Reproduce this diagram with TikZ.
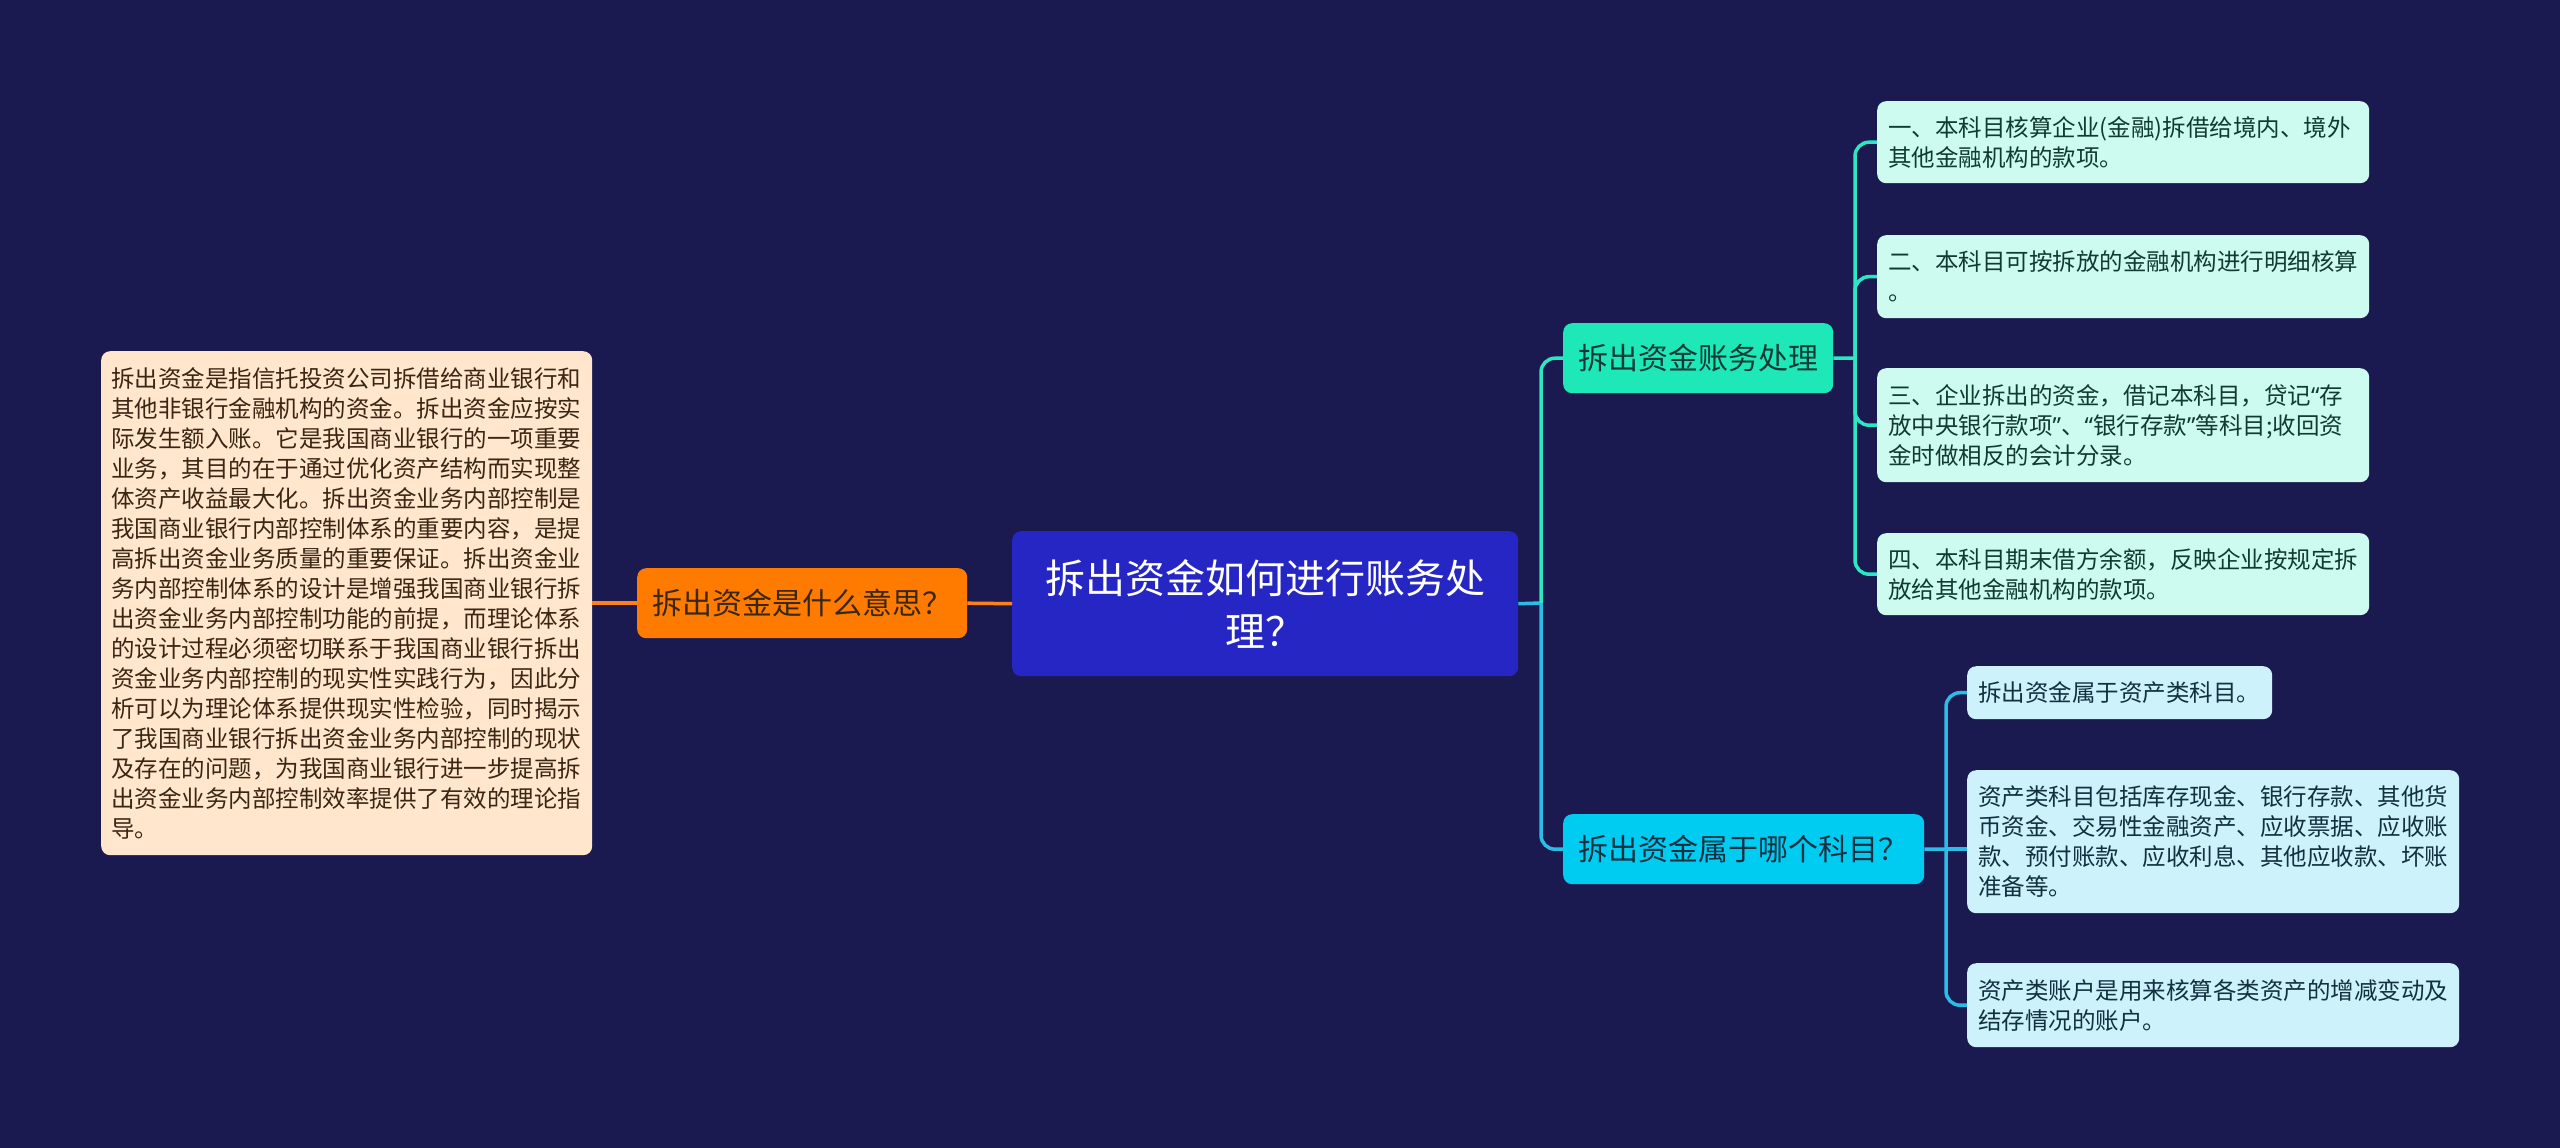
\documentclass[tikz,border=0pt]{standalone}
\usepackage{fontspec}
\setmainfont{Noto Sans CJK SC}
\newfontfamily\latq{Noto Sans}
\newcommand{\myLq}{{\latq “}}
\newcommand{\myRq}{{\latq ”}}
\definecolor{bg}{HTML}{1B1A50}
\definecolor{rootc}{HTML}{2626C4}
\definecolor{orc}{HTML}{FF7B00}
\definecolor{peach}{HTML}{FFE6CC}
\definecolor{grc}{HTML}{1EE8B8}
\definecolor{grleaf}{HTML}{CDFBEF}
\definecolor{cyc}{HTML}{00CCF2}
\definecolor{cyleaf}{HTML}{CDF2FC}
\definecolor{glink}{HTML}{2EE6C4}
\definecolor{clink}{HTML}{2BBDE8}
\definecolor{olink}{HTML}{FF7F1A}
\definecolor{dtext}{HTML}{123A34}
\definecolor{ctext}{HTML}{123040}
\definecolor{btext}{HTML}{3A2614}
\tikzset{
  boxbase/.style={anchor=north west, inner ysep=0pt, rounded corners=9pt, draw=none},
  smalltext/.style={font=\fontsize{23.5}{30}\selectfont, align=left},
  midtext/.style={font=\fontsize{30}{36}\selectfont, align=center, inner xsep=15pt},
  gleaf/.style={boxbase, smalltext, fill=grleaf, text=dtext, inner xsep=11pt},
  cleaf/.style={boxbase, smalltext, fill=cyleaf, text=ctext, inner xsep=11pt},
  link/.style={line width=3.5pt, rounded corners=14pt},
}
\begin{document}
\begin{tikzpicture}[x=1pt,y=-1pt]
\fill[bg] (0,0) rectangle (2560,1148);
\useasboundingbox (0,0) rectangle (2560,1148);

% root
\node[boxbase, fill=rootc, text=white, font=\fontsize{40}{53}\selectfont, align=center,
  minimum width=506pt, minimum height=145pt, text width=446pt, inner xsep=30pt]
  (root) at (1012,531) {拆出资金如何进行账务处\\理？};

% left side
\node[boxbase, midtext, fill=orc, text=btext, minimum width=330pt, minimum height=70pt]
  (what) at (637,568) {拆出资金是什么意思？};
\node[boxbase, smalltext, fill=peach, text=btext, inner xsep=10pt, text width=471pt,
  minimum height=504pt] (desc) at (101,351)
  {拆出资金是指信托投资公司拆借给商业银行和\\
   其他非银行金融机构的资金。拆出资金应按实\\
   际发生额入账。它是我国商业银行的一项重要\\
   业务，其目的在于通过优化资产结构而实现整\\
   体资产收益最大化。拆出资金业务内部控制是\\
   我国商业银行内部控制体系的重要内容，是提\\
   高拆出资金业务质量的重要保证。拆出资金业\\
   务内部控制体系的设计是增强我国商业银行拆\\
   出资金业务内部控制功能的前提，而理论体系\\
   的设计过程必须密切联系于我国商业银行拆出\\
   资金业务内部控制的现实性实践行为，因此分\\
   析可以为理论体系提供现实性检验，同时揭示\\
   了我国商业银行拆出资金业务内部控制的现状\\
   及存在的问题，为我国商业银行进一步提高拆\\
   出资金业务内部控制效率提供了有效的理论指\\
   导。};

% right branches
\node[boxbase, midtext, fill=grc, text=dtext, minimum width=270pt, minimum height=70pt]
  (acc) at (1563,323) {拆出资金账务处理};
\node[boxbase, midtext, fill=cyc, text=ctext, minimum width=361pt, minimum height=70pt]
  (subj) at (1563,814) {拆出资金属于哪个科目？};

% green leaves
\node[gleaf, text width=470pt, minimum height=82pt] (g1) at (1877,101)
  {一、本科目核算企业(金融)拆借给境内、境外\\其他金融机构的款项。};
\node[gleaf, text width=470pt, minimum height=83pt] (g2) at (1877,235)
  {二、本科目可按拆放的金融机构进行明细核算\\。};
\node[gleaf, text width=470pt, minimum height=114pt] (g3) at (1877,368)
  {三、企业拆出的资金，借记本科目，贷记\myLq 存\\放中央银行款项\myRq 、\myLq 银行存款\myRq 等科目;收回资\\金时做相反的会计分录。};
\node[gleaf, text width=470pt, minimum height=82pt] (g4) at (1877,533)
  {四、本科目期末借方余额，反映企业按规定拆\\放给其他金融机构的款项。};

% cyan leaves
\node[cleaf, text width=283pt, minimum height=53pt] (c1) at (1967,666)
  {拆出资金属于资产类科目。};
\node[cleaf, text width=470pt, minimum height=143pt] (c2) at (1967,770)
  {资产类科目包括库存现金、银行存款、其他货\\币资金、交易性金融资产、应收票据、应收账\\款、预付账款、应收利息、其他应收款、坏账\\准备等。};
\node[cleaf, text width=470pt, minimum height=84pt] (c3) at (1967,963)
  {资产类账户是用来核算各类资产的增减变动及\\结存情况的账户。};

% connectors
\coordinate (tr) at (1541,603);
\coordinate (gt) at (1855,358);
\coordinate (ct) at (1946,849);

\draw[link, olink] (desc.east) -- (what.west);
\draw[link, olink] (what.east) -- (root.west);
\draw[link, clink] (root.east) -- (tr);
\draw[link, glink] (tr) |- (acc.west);
\draw[link, clink] (tr) |- (subj.west);

\draw[link, glink] (acc.east) -- (gt);
\draw[link, glink] (gt) |- (g1.west);
\draw[link, glink] (gt) |- (g2.west);
\draw[link, glink] (gt) |- (g3.west);
\draw[link, glink] (gt) |- (g4.west);

\draw[link, clink] (subj.east) -- (ct);
\draw[link, clink] (ct) |- (c1.west);
\draw[link, clink] (ct) -- (ct -| c2.west);
\draw[link, clink] (ct) |- (c3.west);
\end{tikzpicture}
\end{document}
